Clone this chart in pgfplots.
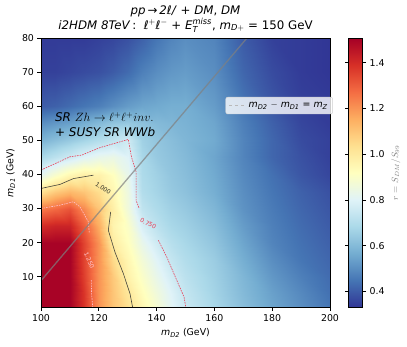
\documentclass[border=0pt]{standalone}
\usepackage{amsmath}
\usepackage{fontspec}
\setmainfont{DejaVu Sans}
\usepackage{pgfplots}
\pgfplotsset{compat=1.18}

\newcommand{\fs}{\fontsize{9.4}{11}\selectfont}
\pgfplotsset{
  /pgf/number format/assume math mode=true,
  every axis/.append style={
    tick label style={font=\fs},
    label style={font=\fs},
  },
}

\begin{document}
\begin{tikzpicture}
\begin{axis}[
  scale only axis, width=289pt, height=269pt,
  xmin=100, xmax=200, ymin=1, ymax=80,
  xtick={100,120,...,200}, ytick={10,20,...,80},
  tick align=outside, xtick pos=bottom, ytick pos=left,
  major tick length=3.5pt,
  tick style={black, line width=0.6pt},
  axis line style={black, line width=0.6pt},
  axis on top,
  colormap={rdylbu}{rgb255=(49,54,149) rgb255=(69,117,180) rgb255=(116,173,209)
    rgb255=(171,217,233) rgb255=(224,243,248) rgb255=(255,255,191) rgb255=(254,224,144)
    rgb255=(253,174,97) rgb255=(244,109,67) rgb255=(215,48,39) rgb255=(165,0,38)},
  point meta min=0.33, point meta max=1.507,
  colorbar,
  colorbar style={
    at={(parent axis.north east)}, anchor=north west, xshift=10pt,
    scale only axis, width=14pt,
    ytick={0.4,0.6,...,1.41},
    yticklabel style={/pgf/number format/.cd, fixed, fixed zerofill, precision=1},
    tick align=outside, major tick length=3.5pt,
    tick style={black, line width=0.6pt},
    axis line style={black, line width=0.6pt},
    ylabel={$r = S_{DM}/S_{99}$},
    ylabel style={text=gray, font=\fontsize{9}{10}\selectfont, xshift=0pt},
  },
  title style={align=center, font=\fontsize{11.8}{14.8}\selectfont, yshift=-4pt},
  title={\textit{pp}\,→\,\textit{2ℓ/} + \textit{DM}, \textit{DM}\\
    \textit{i2HDM 8TeV}\,: \ \textit{ℓ}$^{+}$\textit{ℓ}$^{-}$ + \textit{E}$_{\textit{T}}^{\textit{miss}}$, \textit{m}$_{\textit{D}+}$ = 150 GeV},
  xlabel={\textit{m}$_{\textit{D2}}$ (GeV)},
  ylabel={\textit{m}$_{\textit{D1}}$ (GeV)},
  legend style={at={(1.01,0.782)}, anchor=north east, fill=white, fill opacity=0.8,
    text opacity=1, draw=gray!40, rounded corners=2pt, font=\fs, inner sep=3pt},
]
\addlegendimage{gray!55, dashed, line width=0.9pt}
\addlegendentry{\textit{m}$_{\textit{D2}}$ $-$ \textit{m}$_{\textit{D1}}$ = \textit{m}$_{\textit{Z}}$}

\addplot[surf, shader=interp, mesh/cols=16, point meta=explicit, forget plot]
  table[x=x, y=y, meta=z] {
x y z
100 1 1.50
105 1 1.50
110 1 1.50
115 1 1.38
120 1 1.20
125 1 1.10
130 1 1.03
135 1 0.95
140 1 0.88
145 1 0.81
150 1 0.75
160 1 0.68
170 1 0.61
180 1 0.55
190 1 0.50
200 1 0.45

100 5 1.50
105 5 1.50
110 5 1.50
115 5 1.38
120 5 1.20
125 5 1.10
130 5 1.01
135 5 0.93
140 5 0.86
145 5 0.80
150 5 0.74
160 5 0.67
170 5 0.60
180 5 0.54
190 5 0.49
200 5 0.44

100 10 1.50
105 10 1.50
110 10 1.50
115 10 1.36
120 10 1.20
125 10 1.09
130 10 0.97
135 10 0.90
140 10 0.83
145 10 0.77
150 10 0.72
160 10 0.66
170 10 0.59
180 10 0.52
190 10 0.47
200 10 0.43

100 15 1.50
105 15 1.50
110 15 1.50
115 15 1.35
120 15 1.20
125 15 1.05
130 15 0.95
135 15 0.87
140 15 0.80
145 15 0.74
150 15 0.70
160 15 0.65
170 15 0.57
180 15 0.50
190 15 0.45
200 15 0.42

100 20 1.50
105 20 1.50
110 20 1.50
115 20 1.35
120 20 1.20
125 20 0.99
130 20 0.92
135 20 0.83
140 20 0.76
145 20 0.71
150 20 0.68
160 20 0.63
170 20 0.55
180 20 0.48
190 20 0.44
200 20 0.41

100 25 1.40
105 25 1.42
110 25 1.42
115 25 1.30
120 25 1.15
125 25 0.96
130 25 0.90
135 25 0.78
140 25 0.72
145 25 0.68
150 25 0.66
160 25 0.61
170 25 0.53
180 25 0.47
190 25 0.43
200 25 0.40

100 30 1.25
105 30 1.28
110 30 1.32
115 30 1.22
120 30 1.10
125 30 0.98
130 30 0.86
135 30 0.73
140 30 0.69
145 30 0.66
150 30 0.64
160 30 0.59
170 30 0.51
180 30 0.46
190 30 0.42
200 30 0.39

100 35 1.03
105 35 1.09
110 35 1.13
115 35 1.10
120 35 1.04
125 35 0.95
130 35 0.85
135 35 0.70
140 35 0.67
145 35 0.64
150 35 0.62
160 35 0.57
170 35 0.50
180 35 0.45
190 35 0.41
200 35 0.38

100 40 0.82
105 40 0.89
110 40 0.95
115 40 0.98
120 40 0.97
125 40 0.92
130 40 0.83
135 40 0.69
140 40 0.66
145 40 0.63
150 40 0.61
160 40 0.56
170 40 0.49
180 40 0.44
190 40 0.39
200 40 0.36

100 45 0.68
105 45 0.72
110 45 0.76
115 45 0.80
120 45 0.83
125 45 0.84
130 45 0.80
135 45 0.68
140 45 0.64
145 45 0.62
150 45 0.60
160 45 0.55
170 45 0.48
180 45 0.42
190 45 0.38
200 45 0.35

100 50 0.58
105 50 0.61
110 50 0.64
115 50 0.67
120 50 0.70
125 50 0.73
130 50 0.76
135 50 0.66
140 50 0.63
145 50 0.61
150 50 0.59
160 50 0.56
170 50 0.48
180 50 0.42
190 50 0.37
200 50 0.35

100 55 0.50
105 55 0.52
110 55 0.54
115 55 0.57
120 55 0.60
125 55 0.63
130 55 0.64
135 55 0.62
140 55 0.60
145 55 0.59
150 55 0.58
160 55 0.55
170 55 0.47
180 55 0.41
190 55 0.36
200 55 0.34

100 60 0.40
105 60 0.41
110 60 0.43
115 60 0.45
120 60 0.47
125 60 0.50
130 60 0.53
135 60 0.55
140 60 0.56
145 60 0.57
150 60 0.57
160 60 0.53
170 60 0.45
180 60 0.39
190 60 0.35
200 60 0.34

100 70 0.35
105 70 0.35
110 70 0.36
115 70 0.37
120 70 0.38
125 70 0.40
130 70 0.43
135 70 0.47
140 70 0.50
145 70 0.52
150 70 0.53
160 70 0.50
170 70 0.42
180 70 0.37
190 70 0.34
200 70 0.33

100 80 0.34
105 80 0.34
110 80 0.34
115 80 0.34
120 80 0.35
125 80 0.36
130 80 0.38
135 80 0.41
140 80 0.45
145 80 0.48
150 80 0.50
160 80 0.48
170 80 0.40
180 80 0.35
190 80 0.34
200 80 0.33
};

% contour 0.750
\addplot[color={rgb,255:red,235;green,60;blue,85}, line width=0.6pt,
  dash pattern=on 1.6pt off 1pt, forget plot] coordinates {
  (100,41.3) (110,45.2) (114.1,45.7) (120.4,47.9) (130.2,50.3)
  (131.3,45.2) (132.9,40.8) (132.9,32.4) (134,30)};
\addplot[color={rgb,255:red,235;green,60;blue,85}, line width=0.6pt,
  dash pattern=on 1.6pt off 1pt, forget plot] coordinates {
  (140.6,20.7) (143.5,15.8) (147,8.9) (149.5,4.0) (150.1,1)};
% contour 1.000
\addplot[color={rgb,255:red,70;green,70;blue,60}, line width=0.6pt, forget plot] coordinates {
  (100,35.9) (106.6,37.1) (111.2,38.8) (118.1,39.8)};
\addplot[color={rgb,255:red,70;green,70;blue,60}, line width=0.6pt, forget plot] coordinates {
  (124.1,29) (123.3,23.6) (125.6,17.2) (128.5,10.9) (130.8,5) (131.7,1)};
% contour 1.250
\addplot[color={rgb,255:red,255;green,190;blue,200}, line width=0.6pt,
  dash pattern=on 1.6pt off 1pt, forget plot] coordinates {
  (100,30.0) (106.6,31) (111.2,32.0) (113.5,30.5) (116.4,26.1) (116.7,23)};
\addplot[color={rgb,255:red,255;green,190;blue,200}, line width=0.6pt,
  dash pattern=on 1.6pt off 1pt, forget plot] coordinates {
  (117.4,9) (117.5,5.0) (117.9,1)};

% m_D2 - m_D1 = m_Z
\addplot[gray, opacity=0.7, line width=1.3pt, forget plot] coordinates {(100,8.81) (171.19,80)};

\node[font=\fontsize{6}{7}\selectfont, rotate=-34, text={rgb,255:red,50;green,50;blue,40}]
  at (axis cs:121.5,35.9) {1.000};
\node[font=\fontsize{6}{7}\selectfont, rotate=-29, text={rgb,255:red,235;green,60;blue,85}]
  at (axis cs:137.1,25.6) {0.750};
\node[font=\fontsize{6}{7}\selectfont, rotate=-66, text={rgb,255:red,255;green,200;blue,210}]
  at (axis cs:116.7,14.8) {1.250};

\node[anchor=west, font=\fontsize{12}{14}\selectfont, inner sep=0pt]
  at (axis cs:104.8,56.9) {\textit{SR} $Zh\rightarrow \ell^{+}\ell^{+} inv.$};
\node[anchor=west, font=\fontsize{12}{14}\selectfont, inner sep=0pt]
  at (axis cs:104.8,52.5) {\textit{+ SUSY SR WWb}};
\end{axis}
\pgfresetboundingbox
\useasboundingbox (-41pt,-38.7pt) rectangle (366pt,307.3pt);
\end{tikzpicture}
\end{document}
